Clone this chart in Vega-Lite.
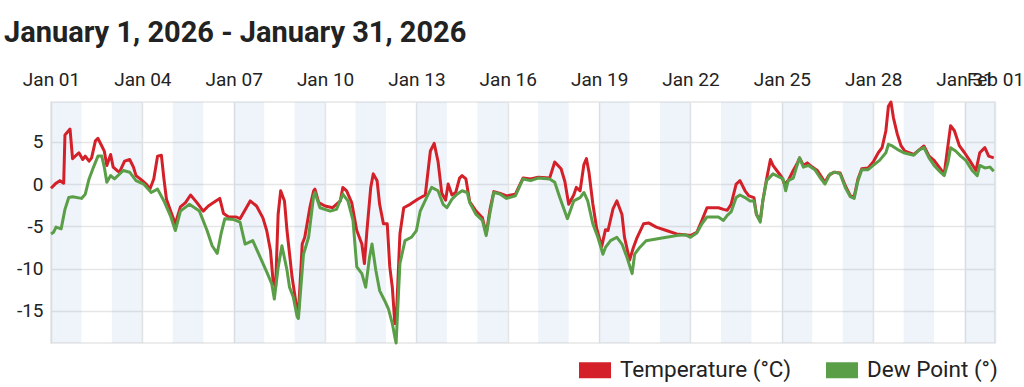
{
  "$schema": "https://vega.github.io/schema/vega-lite/v6.json",
  "width": 944,
  "height": 241,
  "autosize": "none",
  "padding": {"left": 51, "top": 102, "right": 29, "bottom": 44},
  "background": "white",
  "config": {
    "font": "Roboto",
    "view": {"stroke": "#e6e6e6", "strokeWidth": 1.5}
  },
  "title": {
    "text": "January 1, 2026 - January 31, 2026",
    "anchor": "start",
    "frame": "group",
    "dx": -47,
    "offset": 22,
    "fontSize": 29,
    "fontWeight": "bold",
    "font": "Roboto",
    "color": "#222222"
  },
  "datasets": {
    "shade": [
      {"start": "2026-01-01T00:00", "end": "2026-01-02T00:00"},
      {"start": "2026-01-03T00:00", "end": "2026-01-04T00:00"},
      {"start": "2026-01-05T00:00", "end": "2026-01-06T00:00"},
      {"start": "2026-01-07T00:00", "end": "2026-01-08T00:00"},
      {"start": "2026-01-09T00:00", "end": "2026-01-10T00:00"},
      {"start": "2026-01-11T00:00", "end": "2026-01-12T00:00"},
      {"start": "2026-01-13T00:00", "end": "2026-01-14T00:00"},
      {"start": "2026-01-15T00:00", "end": "2026-01-16T00:00"},
      {"start": "2026-01-17T00:00", "end": "2026-01-18T00:00"},
      {"start": "2026-01-19T00:00", "end": "2026-01-20T00:00"},
      {"start": "2026-01-21T00:00", "end": "2026-01-22T00:00"},
      {"start": "2026-01-23T00:00", "end": "2026-01-24T00:00"},
      {"start": "2026-01-25T00:00", "end": "2026-01-26T00:00"},
      {"start": "2026-01-27T00:00", "end": "2026-01-28T00:00"},
      {"start": "2026-01-29T00:00", "end": "2026-01-30T00:00"},
      {"start": "2026-01-31T00:00", "end": "2026-02-01T00:00"}
    ],
    "temp": [
      {"t": "2026-01-01T00:00", "v": -0.5},
      {"t": "2026-01-01T04:00", "v": 0.1},
      {"t": "2026-01-01T07:00", "v": 0.4},
      {"t": "2026-01-01T10:00", "v": 0.1},
      {"t": "2026-01-01T11:00", "v": 5.8},
      {"t": "2026-01-01T15:00", "v": 6.5},
      {"t": "2026-01-01T17:00", "v": 3.0},
      {"t": "2026-01-01T22:00", "v": 3.7},
      {"t": "2026-01-02T01:00", "v": 2.9},
      {"t": "2026-01-02T03:00", "v": 3.3},
      {"t": "2026-01-02T06:00", "v": 2.7},
      {"t": "2026-01-02T08:00", "v": 3.1},
      {"t": "2026-01-02T11:00", "v": 5.1},
      {"t": "2026-01-02T13:00", "v": 5.4},
      {"t": "2026-01-02T16:00", "v": 4.5},
      {"t": "2026-01-02T18:00", "v": 3.9},
      {"t": "2026-01-02T20:00", "v": 2.2},
      {"t": "2026-01-02T23:00", "v": 3.5},
      {"t": "2026-01-03T01:00", "v": 2.0},
      {"t": "2026-01-03T04:00", "v": 1.6},
      {"t": "2026-01-03T06:00", "v": 1.4},
      {"t": "2026-01-03T10:00", "v": 2.7},
      {"t": "2026-01-03T14:00", "v": 2.9},
      {"t": "2026-01-03T17:00", "v": 2.0},
      {"t": "2026-01-03T19:00", "v": 1.0},
      {"t": "2026-01-04T00:00", "v": 0.4},
      {"t": "2026-01-04T03:00", "v": 0.0},
      {"t": "2026-01-04T06:00", "v": -0.6},
      {"t": "2026-01-04T09:00", "v": 0.6},
      {"t": "2026-01-04T12:00", "v": 3.3},
      {"t": "2026-01-04T15:00", "v": 3.4},
      {"t": "2026-01-04T17:00", "v": 0.6},
      {"t": "2026-01-04T19:00", "v": -1.8},
      {"t": "2026-01-04T23:00", "v": -3.5},
      {"t": "2026-01-05T02:00", "v": -4.7},
      {"t": "2026-01-05T06:00", "v": -2.7},
      {"t": "2026-01-05T10:00", "v": -2.2},
      {"t": "2026-01-05T14:00", "v": -1.3},
      {"t": "2026-01-05T19:00", "v": -2.2},
      {"t": "2026-01-06T00:00", "v": -3.2},
      {"t": "2026-01-06T04:00", "v": -2.6},
      {"t": "2026-01-06T09:00", "v": -2.1},
      {"t": "2026-01-06T13:00", "v": -1.7},
      {"t": "2026-01-06T16:00", "v": -3.5},
      {"t": "2026-01-06T20:00", "v": -3.9},
      {"t": "2026-01-07T02:00", "v": -3.9},
      {"t": "2026-01-07T05:00", "v": -4.1},
      {"t": "2026-01-07T13:00", "v": -2.0},
      {"t": "2026-01-07T18:00", "v": -2.6},
      {"t": "2026-01-07T23:00", "v": -4.0},
      {"t": "2026-01-08T02:00", "v": -5.5},
      {"t": "2026-01-08T05:00", "v": -7.9},
      {"t": "2026-01-08T07:00", "v": -11.4},
      {"t": "2026-01-08T09:00", "v": -12.2},
      {"t": "2026-01-08T11:00", "v": -3.6},
      {"t": "2026-01-08T13:00", "v": -0.8},
      {"t": "2026-01-08T16:00", "v": -2.0},
      {"t": "2026-01-08T18:00", "v": -5.5},
      {"t": "2026-01-08T22:00", "v": -11.0},
      {"t": "2026-01-09T02:00", "v": -15.0},
      {"t": "2026-01-09T03:00", "v": -15.4},
      {"t": "2026-01-09T06:00", "v": -7.1},
      {"t": "2026-01-09T08:00", "v": -6.3},
      {"t": "2026-01-09T12:00", "v": -2.8},
      {"t": "2026-01-09T15:00", "v": -0.8},
      {"t": "2026-01-09T16:00", "v": -0.6},
      {"t": "2026-01-09T19:00", "v": -2.2},
      {"t": "2026-01-10T00:00", "v": -2.6},
      {"t": "2026-01-10T06:00", "v": -2.8},
      {"t": "2026-01-10T12:00", "v": -2.0},
      {"t": "2026-01-10T14:00", "v": -0.4},
      {"t": "2026-01-10T17:00", "v": -0.8},
      {"t": "2026-01-10T21:00", "v": -2.2},
      {"t": "2026-01-11T01:00", "v": -5.5},
      {"t": "2026-01-11T05:00", "v": -7.1},
      {"t": "2026-01-11T07:00", "v": -9.4},
      {"t": "2026-01-11T09:00", "v": -5.5},
      {"t": "2026-01-11T12:00", "v": -0.4},
      {"t": "2026-01-11T14:00", "v": 1.2},
      {"t": "2026-01-11T17:00", "v": 0.4},
      {"t": "2026-01-11T19:00", "v": -2.4},
      {"t": "2026-01-11T22:00", "v": -4.7},
      {"t": "2026-01-12T01:00", "v": -4.7},
      {"t": "2026-01-12T03:00", "v": -9.8},
      {"t": "2026-01-12T05:00", "v": -12.2},
      {"t": "2026-01-12T07:00", "v": -16.5},
      {"t": "2026-01-12T08:00", "v": -16.5},
      {"t": "2026-01-12T11:00", "v": -5.9},
      {"t": "2026-01-12T14:00", "v": -2.8},
      {"t": "2026-01-12T19:00", "v": -2.4},
      {"t": "2026-01-13T01:00", "v": -1.8},
      {"t": "2026-01-13T07:00", "v": -1.3},
      {"t": "2026-01-13T11:00", "v": 3.9},
      {"t": "2026-01-13T14:00", "v": 4.8},
      {"t": "2026-01-13T17:00", "v": 2.7},
      {"t": "2026-01-13T20:00", "v": -1.1},
      {"t": "2026-01-13T23:00", "v": -1.9},
      {"t": "2026-01-14T01:00", "v": 0.0},
      {"t": "2026-01-14T04:00", "v": -1.3},
      {"t": "2026-01-14T07:00", "v": -1.0},
      {"t": "2026-01-14T10:00", "v": 0.7},
      {"t": "2026-01-14T12:00", "v": 1.0},
      {"t": "2026-01-14T15:00", "v": 0.6},
      {"t": "2026-01-14T18:00", "v": -2.1},
      {"t": "2026-01-14T23:00", "v": -3.2},
      {"t": "2026-01-15T04:00", "v": -4.0},
      {"t": "2026-01-15T07:00", "v": -5.9},
      {"t": "2026-01-15T10:00", "v": -3.0},
      {"t": "2026-01-15T13:00", "v": -0.9},
      {"t": "2026-01-15T18:00", "v": -1.1},
      {"t": "2026-01-15T23:00", "v": -1.4},
      {"t": "2026-01-16T06:00", "v": -1.2},
      {"t": "2026-01-16T12:00", "v": 0.7},
      {"t": "2026-01-16T18:00", "v": 0.6},
      {"t": "2026-01-17T00:00", "v": 0.8},
      {"t": "2026-01-17T09:00", "v": 0.7},
      {"t": "2026-01-17T13:00", "v": 2.6},
      {"t": "2026-01-17T18:00", "v": 1.8},
      {"t": "2026-01-17T21:00", "v": 0.3},
      {"t": "2026-01-18T00:00", "v": -2.4},
      {"t": "2026-01-18T04:00", "v": -1.3},
      {"t": "2026-01-18T06:00", "v": -0.4},
      {"t": "2026-01-18T09:00", "v": -0.8},
      {"t": "2026-01-18T12:00", "v": 2.3},
      {"t": "2026-01-18T14:00", "v": 3.0},
      {"t": "2026-01-18T16:00", "v": 1.4},
      {"t": "2026-01-18T19:00", "v": -2.3},
      {"t": "2026-01-18T22:00", "v": -5.2},
      {"t": "2026-01-19T02:00", "v": -7.4},
      {"t": "2026-01-19T05:00", "v": -5.4},
      {"t": "2026-01-19T07:00", "v": -5.5},
      {"t": "2026-01-19T11:00", "v": -2.9},
      {"t": "2026-01-19T14:00", "v": -2.0},
      {"t": "2026-01-19T18:00", "v": -3.6},
      {"t": "2026-01-19T20:00", "v": -6.3},
      {"t": "2026-01-20T00:00", "v": -9.0},
      {"t": "2026-01-20T03:00", "v": -7.5},
      {"t": "2026-01-20T06:00", "v": -6.3},
      {"t": "2026-01-20T11:00", "v": -4.7},
      {"t": "2026-01-20T15:00", "v": -4.6},
      {"t": "2026-01-20T21:00", "v": -5.1},
      {"t": "2026-01-21T05:00", "v": -5.5},
      {"t": "2026-01-21T13:00", "v": -5.9},
      {"t": "2026-01-21T19:00", "v": -6.0},
      {"t": "2026-01-22T00:00", "v": -6.1},
      {"t": "2026-01-22T05:00", "v": -5.7},
      {"t": "2026-01-22T09:00", "v": -4.3},
      {"t": "2026-01-22T13:00", "v": -2.8},
      {"t": "2026-01-22T17:00", "v": -2.8},
      {"t": "2026-01-22T22:00", "v": -2.8},
      {"t": "2026-01-23T02:00", "v": -3.0},
      {"t": "2026-01-23T05:00", "v": -3.1},
      {"t": "2026-01-23T08:00", "v": -2.4},
      {"t": "2026-01-23T12:00", "v": 0.0},
      {"t": "2026-01-23T15:00", "v": 0.4},
      {"t": "2026-01-23T19:00", "v": -0.8},
      {"t": "2026-01-23T22:00", "v": -1.4},
      {"t": "2026-01-24T02:00", "v": -1.6},
      {"t": "2026-01-24T04:00", "v": -3.6},
      {"t": "2026-01-24T07:00", "v": -4.3},
      {"t": "2026-01-24T09:00", "v": -2.0},
      {"t": "2026-01-24T12:00", "v": 0.6},
      {"t": "2026-01-24T15:00", "v": 2.9},
      {"t": "2026-01-24T17:00", "v": 2.2},
      {"t": "2026-01-24T20:00", "v": 1.6},
      {"t": "2026-01-25T00:00", "v": 0.8},
      {"t": "2026-01-25T02:00", "v": 0.0},
      {"t": "2026-01-25T05:00", "v": 0.4},
      {"t": "2026-01-25T09:00", "v": 1.6},
      {"t": "2026-01-25T12:00", "v": 2.4},
      {"t": "2026-01-25T14:00", "v": 3.1},
      {"t": "2026-01-25T17:00", "v": 2.2},
      {"t": "2026-01-25T20:00", "v": 2.5},
      {"t": "2026-01-26T00:00", "v": 2.0},
      {"t": "2026-01-26T04:00", "v": 1.6},
      {"t": "2026-01-26T10:00", "v": 0.2},
      {"t": "2026-01-26T13:00", "v": 1.0},
      {"t": "2026-01-26T17:00", "v": 1.4},
      {"t": "2026-01-26T22:00", "v": 1.3},
      {"t": "2026-01-27T02:00", "v": -0.2},
      {"t": "2026-01-27T06:00", "v": -1.4},
      {"t": "2026-01-27T09:00", "v": -1.5},
      {"t": "2026-01-27T12:00", "v": 0.6},
      {"t": "2026-01-27T15:00", "v": 1.8},
      {"t": "2026-01-27T20:00", "v": 1.9},
      {"t": "2026-01-28T00:00", "v": 2.6},
      {"t": "2026-01-28T04:00", "v": 3.7},
      {"t": "2026-01-28T07:00", "v": 4.3},
      {"t": "2026-01-28T10:00", "v": 6.3},
      {"t": "2026-01-28T12:00", "v": 9.2},
      {"t": "2026-01-28T14:00", "v": 9.7},
      {"t": "2026-01-28T16:00", "v": 7.8},
      {"t": "2026-01-28T19:00", "v": 5.9},
      {"t": "2026-01-28T22:00", "v": 4.5},
      {"t": "2026-01-29T01:00", "v": 3.9},
      {"t": "2026-01-29T08:00", "v": 3.5},
      {"t": "2026-01-29T12:00", "v": 4.0},
      {"t": "2026-01-29T16:00", "v": 4.5},
      {"t": "2026-01-29T20:00", "v": 3.3},
      {"t": "2026-01-30T00:00", "v": 2.8},
      {"t": "2026-01-30T04:00", "v": 2.0},
      {"t": "2026-01-30T08:00", "v": 1.2},
      {"t": "2026-01-30T10:00", "v": 3.5},
      {"t": "2026-01-30T13:00", "v": 6.9},
      {"t": "2026-01-30T16:00", "v": 6.3},
      {"t": "2026-01-30T20:00", "v": 4.5},
      {"t": "2026-01-31T00:00", "v": 3.7},
      {"t": "2026-01-31T04:00", "v": 2.8},
      {"t": "2026-01-31T09:00", "v": 1.6},
      {"t": "2026-01-31T12:00", "v": 3.7},
      {"t": "2026-01-31T16:00", "v": 4.3},
      {"t": "2026-01-31T19:00", "v": 3.3},
      {"t": "2026-01-31T23:00", "v": 3.1}
    ],
    "dew": [
      {"t": "2026-01-01T00:00", "v": -5.9},
      {"t": "2026-01-01T02:00", "v": -5.7},
      {"t": "2026-01-01T04:00", "v": -5.1},
      {"t": "2026-01-01T08:00", "v": -5.3},
      {"t": "2026-01-01T11:00", "v": -3.0},
      {"t": "2026-01-01T14:00", "v": -1.6},
      {"t": "2026-01-01T17:00", "v": -1.5},
      {"t": "2026-01-02T00:00", "v": -1.7},
      {"t": "2026-01-02T03:00", "v": -1.2},
      {"t": "2026-01-02T06:00", "v": 0.6},
      {"t": "2026-01-02T09:00", "v": 1.8},
      {"t": "2026-01-02T13:00", "v": 3.3},
      {"t": "2026-01-02T16:00", "v": 3.3},
      {"t": "2026-01-02T18:00", "v": 2.0},
      {"t": "2026-01-02T20:00", "v": 0.2},
      {"t": "2026-01-02T23:00", "v": 1.0},
      {"t": "2026-01-03T02:00", "v": 0.6},
      {"t": "2026-01-03T09:00", "v": 1.6},
      {"t": "2026-01-03T14:00", "v": 1.4},
      {"t": "2026-01-03T19:00", "v": 0.4},
      {"t": "2026-01-04T01:00", "v": 0.0},
      {"t": "2026-01-04T07:00", "v": -1.0},
      {"t": "2026-01-04T12:00", "v": -0.6},
      {"t": "2026-01-04T17:00", "v": -2.0},
      {"t": "2026-01-04T22:00", "v": -3.7},
      {"t": "2026-01-05T02:00", "v": -5.5},
      {"t": "2026-01-05T06:00", "v": -3.2},
      {"t": "2026-01-05T13:00", "v": -2.4},
      {"t": "2026-01-05T21:00", "v": -3.2},
      {"t": "2026-01-06T03:00", "v": -5.5},
      {"t": "2026-01-06T07:00", "v": -7.3},
      {"t": "2026-01-06T11:00", "v": -8.2},
      {"t": "2026-01-06T14:00", "v": -5.9},
      {"t": "2026-01-06T17:00", "v": -4.1},
      {"t": "2026-01-07T00:00", "v": -4.2},
      {"t": "2026-01-07T05:00", "v": -4.5},
      {"t": "2026-01-07T09:00", "v": -7.1},
      {"t": "2026-01-07T15:00", "v": -6.7},
      {"t": "2026-01-07T21:00", "v": -8.7},
      {"t": "2026-01-08T02:00", "v": -10.4},
      {"t": "2026-01-08T06:00", "v": -11.8},
      {"t": "2026-01-08T08:00", "v": -13.6},
      {"t": "2026-01-08T11:00", "v": -9.9},
      {"t": "2026-01-08T14:00", "v": -7.3},
      {"t": "2026-01-08T18:00", "v": -10.2},
      {"t": "2026-01-08T20:00", "v": -12.2},
      {"t": "2026-01-08T23:00", "v": -13.4},
      {"t": "2026-01-09T02:00", "v": -15.7},
      {"t": "2026-01-09T03:00", "v": -15.9},
      {"t": "2026-01-09T07:00", "v": -8.3},
      {"t": "2026-01-09T11:00", "v": -6.3},
      {"t": "2026-01-09T15:00", "v": -1.4},
      {"t": "2026-01-09T16:00", "v": -1.0},
      {"t": "2026-01-09T20:00", "v": -2.8},
      {"t": "2026-01-10T04:00", "v": -3.2},
      {"t": "2026-01-10T09:00", "v": -3.0},
      {"t": "2026-01-10T14:00", "v": -1.2},
      {"t": "2026-01-10T18:00", "v": -2.0},
      {"t": "2026-01-10T22:00", "v": -4.3},
      {"t": "2026-01-11T01:00", "v": -9.8},
      {"t": "2026-01-11T05:00", "v": -10.6},
      {"t": "2026-01-11T08:00", "v": -12.2},
      {"t": "2026-01-11T11:00", "v": -8.7},
      {"t": "2026-01-11T13:00", "v": -7.1},
      {"t": "2026-01-11T16:00", "v": -10.2},
      {"t": "2026-01-11T19:00", "v": -12.6},
      {"t": "2026-01-11T23:00", "v": -13.8},
      {"t": "2026-01-12T02:00", "v": -14.8},
      {"t": "2026-01-12T05:00", "v": -16.5},
      {"t": "2026-01-12T07:00", "v": -18.1},
      {"t": "2026-01-12T08:00", "v": -18.8},
      {"t": "2026-01-12T11:00", "v": -9.4},
      {"t": "2026-01-12T15:00", "v": -6.7},
      {"t": "2026-01-12T20:00", "v": -6.3},
      {"t": "2026-01-13T00:00", "v": -5.5},
      {"t": "2026-01-13T03:00", "v": -3.2},
      {"t": "2026-01-13T08:00", "v": -1.6},
      {"t": "2026-01-13T12:00", "v": -0.4},
      {"t": "2026-01-13T17:00", "v": -0.8},
      {"t": "2026-01-13T21:00", "v": -2.4},
      {"t": "2026-01-14T00:00", "v": -2.8},
      {"t": "2026-01-14T04:00", "v": -1.8},
      {"t": "2026-01-14T08:00", "v": -1.2},
      {"t": "2026-01-14T12:00", "v": -0.8},
      {"t": "2026-01-14T16:00", "v": -1.0},
      {"t": "2026-01-14T18:00", "v": -2.2},
      {"t": "2026-01-14T23:00", "v": -3.6},
      {"t": "2026-01-15T04:00", "v": -4.3},
      {"t": "2026-01-15T07:00", "v": -6.1},
      {"t": "2026-01-15T10:00", "v": -3.4},
      {"t": "2026-01-15T13:00", "v": -1.0},
      {"t": "2026-01-15T18:00", "v": -1.2},
      {"t": "2026-01-15T23:00", "v": -1.7},
      {"t": "2026-01-16T06:00", "v": -1.4},
      {"t": "2026-01-16T12:00", "v": 0.6},
      {"t": "2026-01-16T18:00", "v": 0.4},
      {"t": "2026-01-17T00:00", "v": 0.7},
      {"t": "2026-01-17T09:00", "v": 0.6},
      {"t": "2026-01-17T13:00", "v": 0.2},
      {"t": "2026-01-17T17:00", "v": -1.6},
      {"t": "2026-01-17T23:00", "v": -4.1},
      {"t": "2026-01-18T04:00", "v": -2.0},
      {"t": "2026-01-18T09:00", "v": -1.6},
      {"t": "2026-01-18T12:00", "v": -1.0},
      {"t": "2026-01-18T15:00", "v": -2.0},
      {"t": "2026-01-18T19:00", "v": -4.7},
      {"t": "2026-01-18T23:00", "v": -6.3},
      {"t": "2026-01-19T03:00", "v": -8.3},
      {"t": "2026-01-19T05:00", "v": -7.5},
      {"t": "2026-01-19T09:00", "v": -6.7},
      {"t": "2026-01-19T14:00", "v": -6.3},
      {"t": "2026-01-19T18:00", "v": -7.1},
      {"t": "2026-01-19T22:00", "v": -8.7},
      {"t": "2026-01-20T02:00", "v": -10.6},
      {"t": "2026-01-20T04:00", "v": -8.3},
      {"t": "2026-01-20T08:00", "v": -7.5},
      {"t": "2026-01-20T13:00", "v": -6.7},
      {"t": "2026-01-20T21:00", "v": -6.5},
      {"t": "2026-01-21T05:00", "v": -6.3},
      {"t": "2026-01-21T13:00", "v": -6.1},
      {"t": "2026-01-21T20:00", "v": -6.0},
      {"t": "2026-01-22T00:00", "v": -6.3},
      {"t": "2026-01-22T05:00", "v": -5.8},
      {"t": "2026-01-22T09:00", "v": -4.7},
      {"t": "2026-01-22T13:00", "v": -3.9},
      {"t": "2026-01-22T22:00", "v": -3.9},
      {"t": "2026-01-23T02:00", "v": -4.3},
      {"t": "2026-01-23T05:00", "v": -3.7},
      {"t": "2026-01-23T08:00", "v": -3.3},
      {"t": "2026-01-23T12:00", "v": -1.6},
      {"t": "2026-01-23T15:00", "v": -1.3},
      {"t": "2026-01-23T19:00", "v": -1.6},
      {"t": "2026-01-23T23:00", "v": -2.0},
      {"t": "2026-01-24T02:00", "v": -2.0},
      {"t": "2026-01-24T04:00", "v": -3.6},
      {"t": "2026-01-24T07:00", "v": -4.5},
      {"t": "2026-01-24T09:00", "v": -2.0},
      {"t": "2026-01-24T12:00", "v": 0.4},
      {"t": "2026-01-24T17:00", "v": 1.2},
      {"t": "2026-01-24T21:00", "v": 0.9},
      {"t": "2026-01-25T01:00", "v": 0.6},
      {"t": "2026-01-25T03:00", "v": -0.8},
      {"t": "2026-01-25T05:00", "v": 0.4},
      {"t": "2026-01-25T09:00", "v": 0.7},
      {"t": "2026-01-25T12:00", "v": 2.2},
      {"t": "2026-01-25T14:00", "v": 3.1},
      {"t": "2026-01-25T17:00", "v": 2.0},
      {"t": "2026-01-25T21:00", "v": 2.2},
      {"t": "2026-01-26T02:00", "v": 1.7},
      {"t": "2026-01-26T06:00", "v": 0.8},
      {"t": "2026-01-26T10:00", "v": 0.0},
      {"t": "2026-01-26T14:00", "v": 1.2},
      {"t": "2026-01-26T18:00", "v": 1.4},
      {"t": "2026-01-26T22:00", "v": 1.2},
      {"t": "2026-01-27T02:00", "v": -0.4},
      {"t": "2026-01-27T06:00", "v": -1.5},
      {"t": "2026-01-27T09:00", "v": -1.7},
      {"t": "2026-01-27T12:00", "v": 0.4},
      {"t": "2026-01-27T15:00", "v": 1.7},
      {"t": "2026-01-27T20:00", "v": 1.7},
      {"t": "2026-01-28T00:00", "v": 2.2},
      {"t": "2026-01-28T05:00", "v": 2.8},
      {"t": "2026-01-28T10:00", "v": 3.7},
      {"t": "2026-01-28T12:00", "v": 4.7},
      {"t": "2026-01-28T15:00", "v": 4.5},
      {"t": "2026-01-28T19:00", "v": 4.1},
      {"t": "2026-01-29T00:00", "v": 3.7},
      {"t": "2026-01-29T08:00", "v": 3.4},
      {"t": "2026-01-29T12:00", "v": 4.0},
      {"t": "2026-01-29T16:00", "v": 4.3},
      {"t": "2026-01-29T20:00", "v": 3.1},
      {"t": "2026-01-30T00:00", "v": 2.2},
      {"t": "2026-01-30T05:00", "v": 1.4},
      {"t": "2026-01-30T08:00", "v": 1.0},
      {"t": "2026-01-30T11:00", "v": 2.6},
      {"t": "2026-01-30T13:00", "v": 4.3},
      {"t": "2026-01-30T17:00", "v": 3.9},
      {"t": "2026-01-30T21:00", "v": 3.3},
      {"t": "2026-01-31T01:00", "v": 2.8},
      {"t": "2026-01-31T06:00", "v": 1.6},
      {"t": "2026-01-31T10:00", "v": 1.0},
      {"t": "2026-01-31T12:00", "v": 2.2},
      {"t": "2026-01-31T16:00", "v": 1.9},
      {"t": "2026-01-31T20:00", "v": 2.0},
      {"t": "2026-01-31T23:00", "v": 1.5}
    ]
  },
  "layer": [
    {
      "data": {"name": "shade"},
      "mark": {"type": "rect", "fill": "#5591cd", "opacity": 0.1},
      "encoding": {
        "x": {
          "field": "start",
          "type": "temporal",
          "scale": {"domain": [{"year": 2026, "month": 1, "date": 1}, {"year": 2026, "month": 2, "date": 1}]},
          "axis": {
            "orient": "top",
            "title": null,
            "format": "%b %d",
            "values": [
              {"year": 2026, "month": 1, "date": 1},
              {"year": 2026, "month": 1, "date": 4},
              {"year": 2026, "month": 1, "date": 7},
              {"year": 2026, "month": 1, "date": 10},
              {"year": 2026, "month": 1, "date": 13},
              {"year": 2026, "month": 1, "date": 16},
              {"year": 2026, "month": 1, "date": 19},
              {"year": 2026, "month": 1, "date": 22},
              {"year": 2026, "month": 1, "date": 25},
              {"year": 2026, "month": 1, "date": 28},
              {"year": 2026, "month": 1, "date": 31},
              {"year": 2026, "month": 2, "date": 1}
            ],
            "domain": false,
            "ticks": false,
            "grid": true,
            "gridColor": "#e6e6e6",
            "gridWidth": 1.5,
            "labelFont": "Roboto",
            "labelFontSize": 19,
            "labelColor": "#222222",
            "labelPadding": 13,
            "labelOverlap": false,
            "labelFlush": false,
            "labelBound": false
          }
        },
        "x2": {"field": "end"},
        "y": {"value": 0},
        "y2": {"value": 241}
      }
    },
    {
      "data": {"name": "temp"},
      "mark": {"type": "line", "strokeWidth": 3, "strokeJoin": "round"},
      "encoding": {
        "x": {"field": "t", "type": "temporal"},
        "y": {
          "field": "v",
          "type": "quantitative",
          "scale": {"domain": [-18.8, 9.7], "nice": false, "zero": false},
          "axis": {
            "title": null,
            "values": [5, 0, -5, -10, -15],
            "labelExpr": "'' + datum.value",
            "domain": false,
            "ticks": false,
            "grid": true,
            "gridColor": "#e6e6e6",
            "gridWidth": 1.5,
            "labelFont": "Roboto",
            "labelFontSize": 19,
            "labelColor": "#222222",
            "labelPadding": 8
          }
        },
        "color": {
          "datum": "Temperature (°C)",
          "scale": {"domain": ["Temperature (°C)", "Dew Point (°)"], "range": ["#d42028", "#5a9e48"]},
          "legend": {
            "title": null,
            "orient": "none",
            "direction": "horizontal",
            "legendX": 528,
            "legendY": 252,
            "symbolType": "M-1,-0.5H1V0.5H-1Z",
            "symbolSize": 1024,
            "symbolStrokeWidth": 0,
            "symbolOpacity": 1,
            "labelFont": "Roboto",
            "labelFontSize": 22.5,
            "labelColor": "#222222",
            "labelLimit": 400,
            "labelOffset": 9,
            "columnPadding": 35,
            "padding": 0,
            "encode": {
              "symbols": {"update": {"fill": {"scale": "color", "field": "value"}, "strokeWidth": {"value": 0}}}
            }
          }
        }
      }
    },
    {
      "data": {"name": "dew"},
      "mark": {"type": "line", "strokeWidth": 3, "strokeJoin": "round"},
      "encoding": {
        "x": {"field": "t", "type": "temporal"},
        "y": {"field": "v", "type": "quantitative"},
        "color": {"datum": "Dew Point (°)"}
      }
    }
  ]
}
